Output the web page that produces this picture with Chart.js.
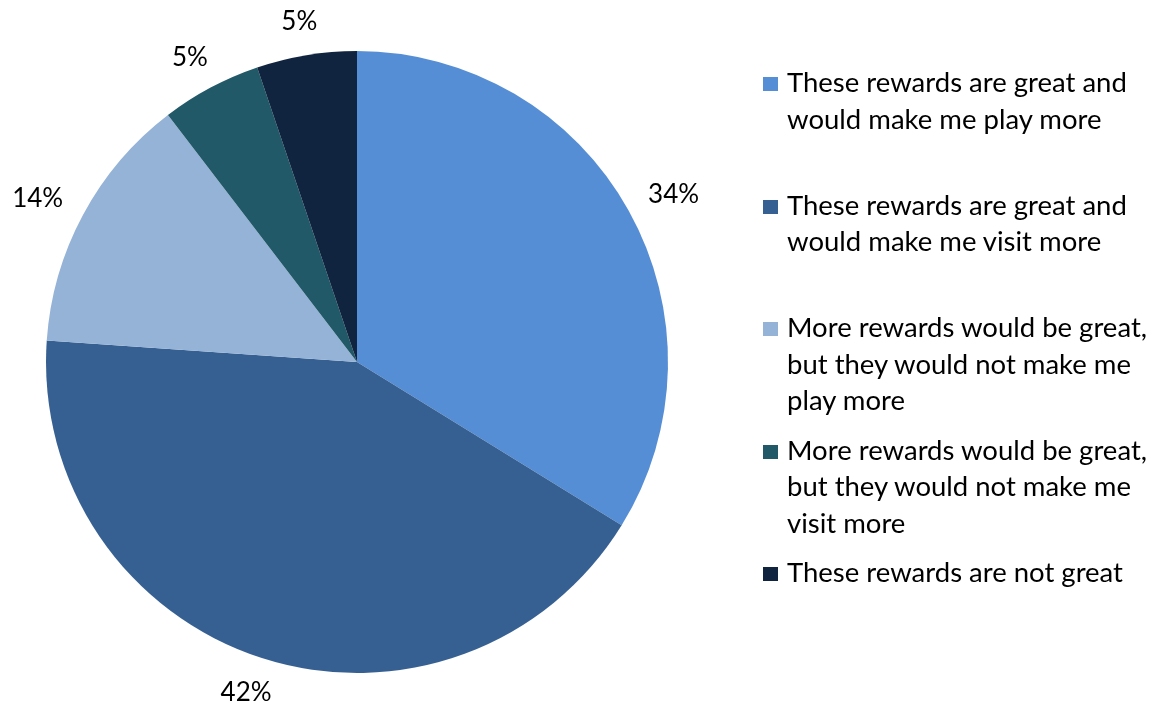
<!DOCTYPE html>
<html>
<head>
<meta charset="utf-8">
<script src="https://cdn.jsdelivr.net/npm/chart.js@4.4.1/dist/chart.umd.min.js"></script>
<style>
  html, body { margin: 0; padding: 0; background: #fff; }
  #wrap { position: relative; width: 1160px; height: 709px; }
  #legend {
    position: absolute; left: 763px; top: 64px;
    font-family: "Lato", "Noto Sans", sans-serif; font-size: 27.5px; color: #000;
  }
  .item { position: relative; padding-left: 24px; line-height: 36.5px; height: 122.5px; white-space: nowrap; }
  .box { position: absolute; left: 0; top: 13px; width: 15px; height: 14px; }
</style>
</head>
<body>
<div id="wrap">
  <canvas id="pieChart" width="1160" height="709"></canvas>
  <div id="legend"></div>
</div>
<script>
// categorias (quebradas em linhas como na legenda original)
const labels = [
  ["These rewards are great and", "would make me play more"],
  ["These rewards are great and", "would make me visit more"],
  ["More rewards would be great,", "but they would not make me", "play more"],
  ["More rewards would be great,", "but they would not make me", "visit more"],
  ["These rewards are not great"],
];
const values = [33.8, 42.3, 13.5, 5.2, 5.2];
const colors = ["#558ed5", "#376092", "#95b3d7", "#215968", "#10243f"];

// rótulos de porcentagem fora da pizza (caixa encostada na borda, como no Excel)
const outsideLabels = {
  id: "outsideLabels",
  afterDatasetsDraw(chart) {
    const ctx = chart.ctx;
    const meta = chart.getDatasetMeta(0);
    const size = 26;
    const capH = size * 0.72;
    ctx.save();
    ctx.font = size + "px Lato, 'Noto Sans', sans-serif";
    ctx.fillStyle = "#000";
    ctx.textAlign = "center";
    ctx.textBaseline = "alphabetic";
    meta.data.forEach((arc, i) => {
      const text = Math.round(values[i]) + "%";
      const w = ctx.measureText(text).width;
      const mid = (arc.startAngle + arc.endAngle) / 2;
      const cos = Math.cos(mid), sin = Math.sin(mid);
      const r = arc.outerRadius + 26;
      const x = arc.x + cos * r + cos * w / 2;
      const y = arc.y + sin * r + sin * capH / 2;
      ctx.fillText(text, x, y + capH / 2);
    });
    ctx.restore();
  },
};

new Chart(document.getElementById("pieChart"), {
  type: "pie",
  data: {
    labels: labels.map((l) => l.join(" ")),
    datasets: [{ data: values, backgroundColor: colors, borderWidth: 0 }],
  },
  options: {
    responsive: false,
    animation: false,
    layout: { padding: { left: 46, right: 492, top: 51, bottom: 36 } },
    plugins: { legend: { display: false }, tooltip: { enabled: false } },
  },
  plugins: [outsideLabels],
});

// legenda em HTML
const legendEl = document.getElementById("legend");
labels.forEach((lines, i) => {
  const item = document.createElement("div");
  item.className = "item";
  const box = document.createElement("span");
  box.className = "box";
  box.style.background = colors[i];
  item.appendChild(box);
  lines.forEach((line, j) => {
    if (j > 0) item.appendChild(document.createElement("br"));
    item.appendChild(document.createTextNode(line));
  });
  legendEl.appendChild(item);
});
</script>
</body>
</html>
